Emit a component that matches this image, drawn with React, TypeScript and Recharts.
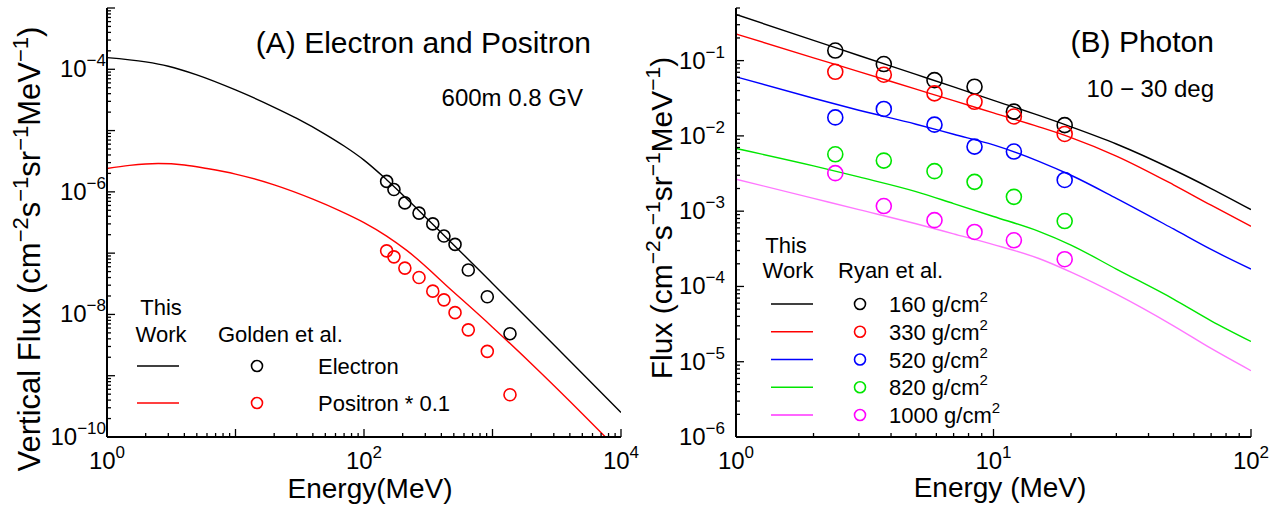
import React from 'react';
import { ComposedChart, Line, Scatter, XAxis, YAxis } from 'recharts';

const FONT = '"Liberation Sans", Arial, Helvetica, sans-serif';

// ---- (A) electron / positron, 600 m, 0.8 GV ----
const electronLineE = [1, 2, 3, 5, 10, 20, 30, 50, 70, 100, 150, 300, 1000, 3000, 10000];
const electronLineFlux = [1.55e-4, 1.32e-4, 1.12e-4, 8.1e-5, 4.6e-5, 2.4e-5, 1.58e-5, 8.7e-6, 5.6e-6, 3.3e-6, 1.58e-6, 3.9e-7, 3.2e-8, 3.2e-9, 2.5e-10];
const positronLineE = [1, 1.5, 2.5, 4, 6, 10, 20, 40, 65, 100, 150, 215, 500, 1000, 2340, 5000, 7500, 10000];
const positronLineFlux = [2.4e-6, 2.7e-6, 2.9e-6, 2.75e-6, 2.4e-6, 1.95e-6, 1.3e-6, 7.6e-7, 4.9e-7, 3.15e-7, 1.9e-7, 1.11e-7, 2.3e-8, 6.2e-9, 1.15e-9, 2.4e-10, 1.02e-10, 5.5e-11];
const goldenE = [150, 171, 208, 268, 343, 419, 511, 648, 911, 1368];
const goldenElectron = [1.48e-6, 1.09e-6, 6.6e-7, 4.5e-7, 3.0e-7, 1.9e-7, 1.39e-7, 5.3e-8, 1.94e-8, 4.85e-9];
const goldenPositron = [1.09e-7, 8.7e-8, 5.7e-8, 4.0e-8, 2.4e-8, 1.73e-8, 1.07e-8, 5.6e-9, 2.5e-9, 4.9e-10];

// ---- (B) photon, 10-30 deg ----
const photonE = [1, 2, 3, 5, 7, 10, 15, 20, 30, 50, 70, 100];
const photon160 = [0.41, 0.186, 0.117, 0.0655, 0.0447, 0.0297, 0.0187, 0.0132, 7.8e-3, 3.55e-3, 2.0e-3, 1.05e-3];
const photon330 = [0.226, 0.109, 0.0714, 0.0418, 0.0294, 0.0202, 0.0132, 9.5e-3, 5.4e-3, 2.24e-3, 1.2e-3, 6.3e-4];
const photon520 = [0.061, 0.0316, 0.0219, 0.0143, 0.0105, 7.6e-3, 4.6e-3, 3.0e-3, 1.48e-3, 5.8e-4, 3.1e-4, 1.7e-4];
const photon820 = [6.8e-3, 4.0e-3, 2.85e-3, 1.82e-3, 1.26e-3, 8.5e-4, 5.4e-4, 3.55e-4, 1.7e-4, 6.8e-5, 3.5e-5, 1.86e-5];
const photon1000 = [2.66e-3, 1.48e-3, 1.05e-3, 6.8e-4, 5.0e-4, 3.6e-4, 2.35e-4, 1.55e-4, 7.9e-5, 3.0e-5, 1.5e-5, 7.6e-6];
const ryanE = [2.43, 3.75, 5.9, 8.44, 12.0, 18.9];
const ryan160 = [0.136, 0.09, 0.055, 0.045, 0.021, 0.0139];
const ryan330 = [0.071, 0.065, 0.0367, 0.0284, 0.0181, 0.0106];
const ryan520 = [0.0176, 0.0228, 0.0141, 7.2e-3, 6.2e-3, 2.6e-3];
const ryan820 = [5.7e-3, 4.7e-3, 3.4e-3, 2.45e-3, 1.55e-3, 7.4e-4];
const ryan1000 = [3.2e-3, 1.17e-3, 7.6e-4, 5.3e-4, 4.1e-4, 2.3e-4];

const photonSeries = [
  { name: '160', line: photon160, pts: ryan160, lineColor: '#000000', dotColor: '#000000', keyColor: '#000000' },
  { name: '330', line: photon330, pts: ryan330, lineColor: '#ff0000', dotColor: '#ff0000', keyColor: '#ff0000' },
  { name: '520', line: photon520, pts: ryan520, lineColor: '#0000ff', dotColor: '#0000ff', keyColor: '#0000ff' },
  { name: '820', line: photon820, pts: ryan820, lineColor: '#00e600', dotColor: '#00e600', keyColor: '#00e600' },
  { name: '1000', line: photon1000, pts: ryan1000, lineColor: '#ff77ff', dotColor: '#ff00ff', keyColor: '#ff33ff' },
];

// axis decades that carry a 10^n label
const leftXLabels = [0, 2, 4];
const leftYLabels = [-10, -8, -6, -4];
const rightXLabels = [0, 1, 2];
const rightYLabels = [-6, -5, -4, -3, -2, -1];

const zip = (xs: number[], ys: number[]) => xs.map((x, i) => ({ x, y: ys[i] }));

function logTicks(lo: number, hi: number, max = Infinity) {
  const out: number[] = [];
  for (let e = lo; e < hi; e++) for (let m = 1; m < 10; m++) out.push(m * Math.pow(10, e));
  out.push(Math.pow(10, hi));
  return out.filter((v) => v <= max * 1.0001);
}

const isDecade = (v: number) => Math.abs(Math.log10(v) - Math.round(Math.log10(v))) < 1e-6;

function Pow({ x, y, exp, anchor }: { x: number; y: number; exp: number; anchor: string }) {
  return (
    <text x={x} y={y} textAnchor={anchor as any} fontFamily={FONT} fontSize={24} fill="#000" stroke="none">
      10
      <tspan dy={-11} fontSize={17}>
        {exp < 0 ? '\u2212' + -exp : String(exp)}
      </tspan>
    </text>
  );
}

type Side = 'bottom' | 'top' | 'left' | 'right';

const makeTick = (side: Side, labels: number[], labelGap = 1) => (props: any) => {
  const { x, y, payload } = props;
  const v = payload.value;
  const major = isDecade(v);
  const e = Math.round(Math.log10(v));
  const len = major ? 8 : 4;
  let p = { x1: x, y1: y, x2: x, y2: y - len };
  if (side === 'top') p = { x1: x, y1: y, x2: x, y2: y + len };
  else if (side === 'left') p = { x1: x, y1: y, x2: x + len, y2: y };
  else if (side === 'right') p = { x1: x, y1: y, x2: x - len, y2: y };
  const showLabel = major && labels.includes(e);
  return (
    <g>
      <line {...p} stroke="#000" strokeWidth={1.3} />
      {showLabel && side === 'bottom' && <Pow x={x} y={y + 32} exp={e} anchor="middle" />}
      {showLabel && side === 'left' && <Pow x={x - labelGap} y={y + 8} exp={e} anchor="end" />}
    </g>
  );
};

const ring = (r: number, color: string) => (props: any) => (
  <circle cx={props.cx} cy={props.cy} r={r} fill="none" stroke={color} strokeWidth={1.6} />
);

const axisLine = { stroke: '#000', strokeWidth: 2 };

function Sup({ base, sup }: { base: string; sup: string }) {
  return (
    <>
      <tspan>{base}</tspan>
      <tspan dy={-10} fontSize={15}>
        {sup}
      </tspan>
    </>
  );
}

function UnitLabel({ x, y, text, size }: { x: number; y: number; text: string; size: number }) {
  const s = Math.round(size * 0.7);
  const d = Math.round(size * 0.4);
  return (
    <text transform={`translate(${x},${y}) rotate(-90)`} textAnchor="middle" fontSize={size}>
      {text} (cm
      <tspan dy={-d} fontSize={s}>{'\u22122'}</tspan>
      <tspan dy={d}>s</tspan>
      <tspan dy={-d} fontSize={s}>{'\u22121'}</tspan>
      <tspan dy={d}>sr</tspan>
      <tspan dy={-d} fontSize={s}>{'\u22121'}</tspan>
      <tspan dy={d}>MeV</tspan>
      <tspan dy={-d} fontSize={s}>{'\u22121'}</tspan>
      <tspan dy={d}>)</tspan>
    </text>
  );
}

export default function App() {
  const leftXTicks = logTicks(0, 4);
  const leftYTicks = logTicks(-10, -3);
  const rightXTicks = logTicks(0, 2);
  const rightYTicks = logTicks(-6, 0, 0.5);

  const xAxis = (id: string, side: Side, domain: number[], ticks: number[], labels: number[], h: number) => (
    <XAxis
      xAxisId={id}
      orientation={side === 'top' ? 'top' : 'bottom'}
      dataKey="x"
      type="number"
      scale="log"
      domain={domain}
      allowDataOverflow
      ticks={ticks}
      interval={0}
      tickSize={0}
      tickMargin={0}
      tickLine={false}
      axisLine={axisLine}
      height={h}
      tick={makeTick(side, labels)}
    />
  );
  const yAxis = (id: string, side: Side, domain: number[], ticks: number[], labels: number[], w: number, gap: number) => (
    <YAxis
      yAxisId={id}
      orientation={side === 'right' ? 'right' : 'left'}
      dataKey="y"
      type="number"
      scale="log"
      domain={domain}
      allowDataOverflow
      ticks={ticks}
      interval={0}
      tickSize={0}
      tickMargin={0}
      tickLine={false}
      axisLine={axisLine}
      width={w}
      tick={makeTick(side, labels, gap)}
    />
  );

  const legendRowsY = [304, 331.75, 359.5, 387.25, 415];

  return (
    <div style={{ position: 'absolute', left: 0, top: 0, width: 1282, height: 506, background: '#fff', fontFamily: FONT }}>
      <div style={{ position: 'absolute', left: 0, top: 0 }}>
        <ComposedChart width={640} height={506} margin={{ top: 8, right: 19, bottom: 0, left: 0 }}>
          {xAxis('b', 'bottom', [1, 10000], leftXTicks, leftXLabels, 69)}
          {xAxis('t', 'top', [1, 10000], leftXTicks, [], 0)}
          {yAxis('l', 'left', [1e-10, 1e-3], leftYTicks, leftYLabels, 107, 1)}
          {yAxis('r', 'right', [1e-10, 1e-3], leftYTicks, [], 0, 0)}
          <Line xAxisId="b" yAxisId="l" data={zip(electronLineE, electronLineFlux)} dataKey="y" type="monotone" stroke="#000" strokeWidth={1.4} dot={false} isAnimationActive={false} />
          <Line xAxisId="b" yAxisId="l" data={zip(positronLineE, positronLineFlux)} dataKey="y" type="monotone" stroke="#ff0000" strokeWidth={1.4} dot={false} isAnimationActive={false} />
          <Scatter xAxisId="b" yAxisId="l" data={zip(goldenE, goldenElectron)} dataKey="y" shape={ring(6, '#000')} isAnimationActive={false} />
          <Scatter xAxisId="b" yAxisId="l" data={zip(goldenE, goldenPositron)} dataKey="y" shape={ring(6, '#ff0000')} isAnimationActive={false} />
        </ComposedChart>
      </div>
      <div style={{ position: 'absolute', left: 640, top: 0 }}>
        <ComposedChart width={642} height={506} margin={{ top: 8, right: 31, bottom: 0, left: 0 }}>
          {xAxis('b', 'bottom', [1, 100], rightXTicks, rightXLabels, 69)}
          {xAxis('t', 'top', [1, 100], rightXTicks, [], 0)}
          {yAxis('l', 'left', [1e-6, 0.5], rightYTicks, rightYLabels, 96, 11)}
          {yAxis('r', 'right', [1e-6, 0.5], rightYTicks, [], 0, 0)}
          {photonSeries.map((s) => (
            <Line key={'l' + s.name} xAxisId="b" yAxisId="l" data={zip(photonE, s.line)} dataKey="y" type="monotone" stroke={s.lineColor} strokeWidth={1.4} dot={false} isAnimationActive={false} />
          ))}
          {photonSeries.map((s) => (
            <Scatter key={'s' + s.name} xAxisId="b" yAxisId="l" data={zip(ryanE, s.pts)} dataKey="y" shape={ring(7.5, s.dotColor)} isAnimationActive={false} />
          ))}
        </ComposedChart>
      </div>

      <svg width={1282} height={506} style={{ position: 'absolute', left: 0, top: 0, pointerEvents: 'none' }} fontFamily={FONT} fill="#000">
        {/* panel A */}
        <text x={591} y={53} textAnchor="end" fontSize={30}>(A) Electron and Positron</text>
        <text x={583} y={106} textAnchor="end" fontSize={24}>600m 0.8 GV</text>
        <text x={370} y={498} textAnchor="middle" fontSize={28}>Energy(MeV)</text>
        <UnitLabel x={40} y={249} text="Vertical Flux" size={31} />
        <text x={161} y={315} textAnchor="middle" fontSize={22}>This</text>
        <text x={161} y={342} textAnchor="middle" fontSize={22}>Work</text>
        <text x={218} y={342} fontSize={22}>Golden et al.</text>
        <line x1={137} y1={366} x2={179} y2={366} stroke="#000" strokeWidth={1.5} />
        <circle cx={257} cy={366} r={5.5} fill="none" stroke="#000" strokeWidth={1.6} />
        <text x={318} y={374} fontSize={22}>Electron</text>
        <line x1={137} y1={403} x2={179} y2={403} stroke="#ff0000" strokeWidth={1.5} />
        <circle cx={257} cy={403} r={5.5} fill="none" stroke="#ff0000" strokeWidth={1.6} />
        <text x={318} y={411} fontSize={22}>Positron * 0.1</text>

        {/* panel B */}
        <text x={1214} y={52} textAnchor="end" fontSize={30}>(B) Photon</text>
        <text x={1214} y={97} textAnchor="end" fontSize={24}>{'10 \u2212 30 deg'}</text>
        <text x={1000} y={497} textAnchor="middle" fontSize={28}>Energy (MeV)</text>
        <UnitLabel x={672} y={218} text="Flux" size={30} />
        <text x={786} y={253} textAnchor="middle" fontSize={22}>This</text>
        <text x={788} y={278} textAnchor="middle" fontSize={22}>Work</text>
        <text x={838} y={278} fontSize={22}>Ryan et al.</text>
        {photonSeries.map((s, i) => (
          <g key={'lg' + s.name}>
            <line x1={771} y1={legendRowsY[i]} x2={813} y2={legendRowsY[i]} stroke={s.keyColor} strokeWidth={1.5} />
            <circle cx={860} cy={legendRowsY[i]} r={5.5} fill="none" stroke={s.dotColor} strokeWidth={1.6} />
            <text x={889} y={legendRowsY[i] + 8} fontSize={22}>
              <Sup base={`${s.name} g/cm`} sup="2" />
            </text>
          </g>
        ))}
      </svg>
    </div>
  );
}
